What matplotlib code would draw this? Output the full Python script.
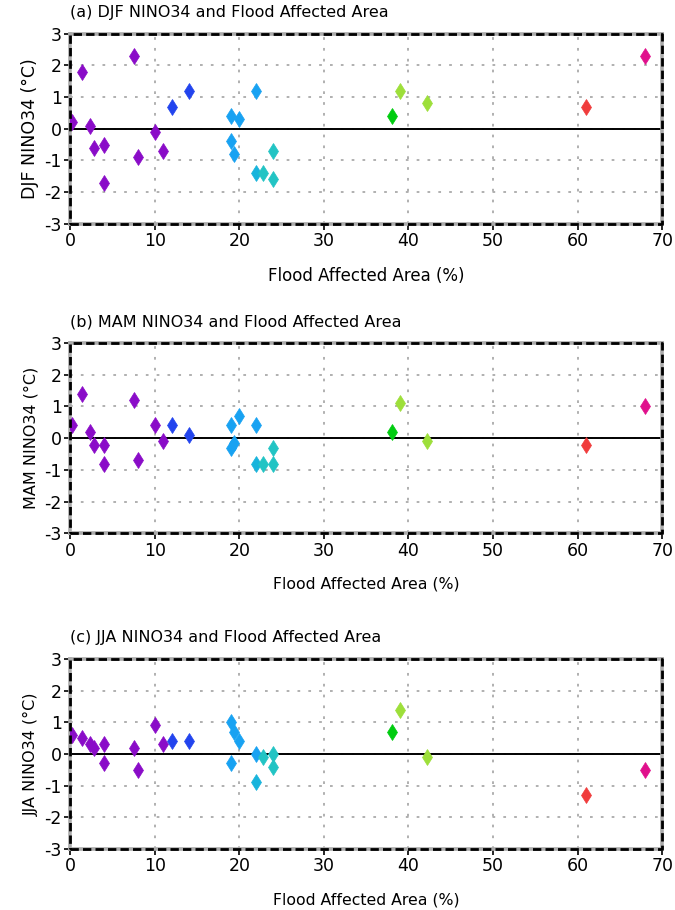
import numpy as np
import matplotlib
matplotlib.use("Agg")
import matplotlib.pyplot as plt

# flood affected area (%) for each year, shared by all panels
area = [0.2, 1.4, 2.4, 2.8, 4.0, 4.0, 7.5, 8.0, 10.0, 11.0, 12.0, 14.0,
        19.0, 19.0, 19.4, 20.0, 22.0, 22.0, 22.8, 24.0, 24.0,
        38.0, 39.0, 42.2, 61.0, 68.0]

djf = [0.2, 1.8, 0.1, -0.6, -0.5, -1.7, 2.3, -0.9, -0.1, -0.7, 0.7, 1.2,
       0.4, -0.4, -0.8, 0.3, 1.2, -1.4, -1.4, -0.7, -1.6,
       0.4, 1.2, 0.8, 0.7, 2.3]
mam = [0.4, 1.4, 0.2, -0.2, -0.2, -0.8, 1.2, -0.7, 0.4, -0.1, 0.4, 0.1,
       0.4, -0.3, -0.15, 0.7, 0.4, -0.8, -0.8, -0.3, -0.8,
       0.2, 1.1, -0.1, -0.2, 1.0]
jja = [0.6, 0.5, 0.3, 0.2, 0.3, -0.3, 0.2, -0.5, 0.9, 0.3, 0.4, 0.4,
       1.0, -0.3, 0.7, 0.4, 0.0, -0.9, -0.1, 0.0, -0.4,
       0.7, 1.4, -0.1, -1.3, -0.5]

purple, blue, lblue, tblue, cyan = "#8a0cc8", "#2244ee", "#18a2f2", "#18b4dc", "#22c4c4"
green, ygreen, red, pink = "#00cc10", "#9ddf3a", "#f03c3c", "#e0108c"
colors = [purple] * 10 + [blue] * 2 + [lblue] * 5 + [tblue] + [cyan] * 3 + \
         [green, ygreen, ygreen, red, pink]

panels = [
    ("(a) DJF NINO34 and Flood Affected Area", "DJF NINO34 (°C)", djf, 12.5, 12),
    ("(b) MAM NINO34 and Flood Affected Area", "MAM NINO34 (°C)", mam, 11.5, 11.3),
    ("(c) JJA NINO34 and Flood Affected Area", "JJA NINO34 (°C)", jja, 11.5, 11.3),
]
bottoms = [0.754, 0.414, 0.067]

fig = plt.figure(figsize=(6.75, 9.1), dpi=100)

for (title, ylab, vals, yfs, xfs), b in zip(panels, bottoms):
    ax = fig.add_axes([0.104, b, 0.877, 0.209])
    ax.set_xlim(0, 70)
    ax.set_ylim(-3, 3)
    ax.set_xticks(np.arange(0, 71, 10))
    ax.set_yticks(np.arange(-3, 4, 1))
    ax.set_yticklabels([str(v) for v in range(-3, 4)])
    ax.grid(True, color="#aaaaaa", ls=(0, (1.5, 4.5)), lw=1.3)
    ax.axhline(0, color="k", lw=1.4, zorder=2)
    for xv, yv, c in zip(area, vals, colors):
        ax.plot(xv, yv, marker="d", ms=8.5, color=c, mec=c, mew=0.5, ls="none", zorder=3)
    for s in ax.spines.values():
        s.set_color("#aaaaaa")
        s.set_linewidth(2.6)
    ax.plot([0, 1, 1, 0, 0], [0, 0, 1, 1, 0], transform=ax.transAxes,
            color="k", ls=(0, (3, 1.5)), lw=2, clip_on=False, zorder=5)
    ax.tick_params(direction="out", length=4, width=1.2, labelsize=12.5,
                   top=False, right=False, pad=2)
    ax.set_title(title, loc="left", fontsize=11.5, pad=12)
    ax.set_ylabel(ylab, fontsize=yfs, labelpad=4)
    ax.set_xlabel("Flood Affected Area (%)", fontsize=xfs, labelpad=12)

fig.savefig("out.png", dpi=100)
